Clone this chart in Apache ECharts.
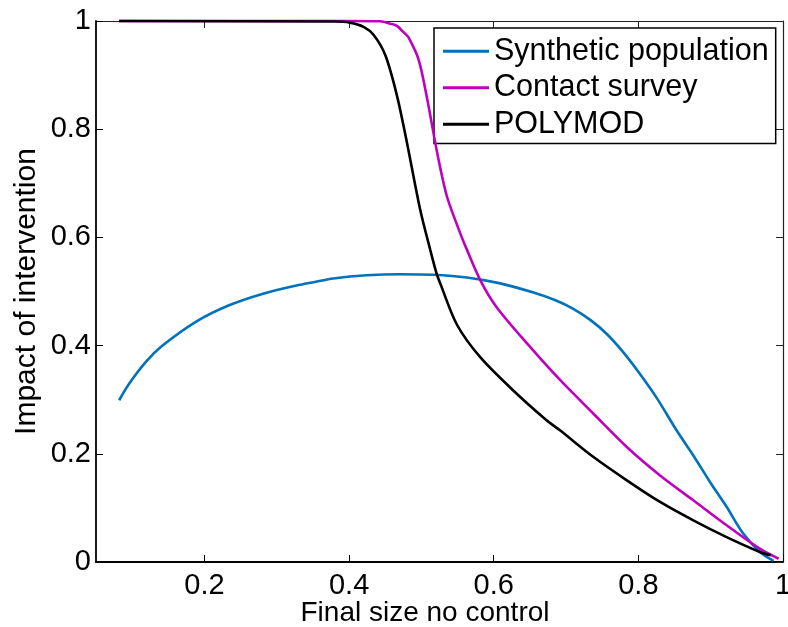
<!DOCTYPE html>
<html>
<head>
<meta charset="utf-8">
<title>Impact of intervention</title>
<script src="https://cdn.jsdelivr.net/npm/echarts@6/dist/echarts.min.js"></script>
<style>
  html, body { margin: 0; padding: 0; background: #ffffff; }
  #chart { width: 788px; height: 627px; }
</style>
</head>
<body>
<div id="chart"></div>
<script>
// Final size without control (x) vs. impact of intervention (y), three contact models
const seriesNames = ['Synthetic population', 'Contact survey', 'POLYMOD'];
const seriesColors = ['#0072BD', '#BF00BF', '#000000'];

const syntheticPopulation = [
  [0.082, 0.299], [0.096, 0.330], [0.119, 0.370], [0.142, 0.400], [0.188, 0.444],
  [0.234, 0.4745], [0.281, 0.496], [0.327, 0.511], [0.354, 0.518], [0.378, 0.524],
  [0.424, 0.530], [0.470, 0.532], [0.516, 0.531], [0.563, 0.526], [0.609, 0.515],
  [0.655, 0.498], [0.687, 0.483], [0.710, 0.468], [0.733, 0.448], [0.756, 0.422],
  [0.779, 0.388], [0.802, 0.348], [0.826, 0.302], [0.853, 0.243], [0.876, 0.197],
  [0.899, 0.148], [0.922, 0.102], [0.945, 0.0525], [0.968, 0.0185], [0.987, 0.002]
];

const contactSurvey = [
  [0.082, 1.000], [0.397, 1.000], [0.443, 0.9995], [0.457, 0.995], [0.466, 0.991],
  [0.477, 0.977], [0.482, 0.970], [0.496, 0.929], [0.508, 0.856], [0.522, 0.755],
  [0.535, 0.677], [0.549, 0.624], [0.558, 0.593], [0.581, 0.522], [0.604, 0.471],
  [0.650, 0.398], [0.692, 0.336], [0.738, 0.274], [0.784, 0.2126], [0.830, 0.160],
  [0.876, 0.114], [0.922, 0.068], [0.968, 0.0247], [0.994, 0.006]
];

const polymod = [
  [0.082, 1.000], [0.380, 0.999], [0.401, 0.997], [0.420, 0.989], [0.434, 0.974],
  [0.450, 0.937], [0.466, 0.863], [0.480, 0.775], [0.498, 0.653], [0.512, 0.578],
  [0.521, 0.533], [0.526, 0.515], [0.549, 0.439], [0.581, 0.379],
  [0.627, 0.317], [0.673, 0.262], [0.692, 0.243], [0.738, 0.194], [0.784, 0.151],
  [0.830, 0.111], [0.876, 0.077], [0.922, 0.046], [0.968, 0.0185], [0.983, 0.0124]
];

const xTicks = [0.2, 0.4, 0.6, 0.8, 1];

const FONT = '"Liberation Sans", Arial, Helvetica, sans-serif';
const chart = echarts.init(document.getElementById('chart'), null, { renderer: 'canvas' });

function tickLabel(v) {
  return String(Math.round(v * 10) / 10);
}

const lineSeries = [syntheticPopulation, contactSurvey, polymod].map((data, i) => ({
  name: seriesNames[i],
  type: 'line',
  data: data,
  symbol: 'none',
  smooth: 0.3,
  clip: false,
  lineStyle: { color: seriesColors[i], width: 2.6 },
  itemStyle: { color: seriesColors[i] },
  z: 3 + i,
  animation: false
}));

const option = {
  animation: false,
  backgroundColor: '#ffffff',
  grid: { left: 96, top: 21, right: 5, bottom: 65, containLabel: false, outerBoundsMode: 'none' },
  legend: {
    orient: 'vertical',
    left: 434,
    top: 28,
    padding: [5, 7, 1, 9],
    borderColor: '#000000',
    borderWidth: 1.5,
    backgroundColor: '#ffffff',
    icon: 'rect',
    itemWidth: 46,
    itemHeight: 3,
    itemGap: 0,
    textStyle: { fontFamily: FONT, fontSize: 30.5, color: '#000000', lineHeight: 36.5 },
    data: seriesNames
  },
  xAxis: [
    {
      type: 'value', min: 0.05, max: 1, position: 'bottom',
      name: 'Final size no control', nameLocation: 'middle', nameGap: 37, nameMoveOverlap: false,
      nameTextStyle: { fontFamily: FONT, fontSize: 28, color: '#000000', padding: [0, 29, 0, 0] },
      axisLine: { show: true, onZero: false, lineStyle: { color: '#000000', width: 1.8 } },
      axisTick: { show: true, inside: true, length: 7, customValues: xTicks, lineStyle: { color: '#000000', width: 1 } },
      axisLabel: { show: true, customValues: xTicks, formatter: tickLabel, margin: 9, fontFamily: FONT, fontSize: 29, color: '#000000' },
      splitLine: { show: false }
    },
    {
      type: 'value', min: 0.05, max: 1, position: 'top',
      axisLine: { show: true, onZero: false, lineStyle: { color: '#222222', width: 1.2 } },
      axisTick: { show: true, inside: true, length: 7, customValues: xTicks, lineStyle: { color: '#222222', width: 1 } },
      axisLabel: { show: false },
      splitLine: { show: false }
    }
  ],
  yAxis: [
    {
      type: 'value', min: 0, max: 1, interval: 0.2, position: 'left',
      name: 'Impact of intervention', nameLocation: 'middle', nameGap: 54, nameMoveOverlap: false,
      nameTextStyle: { fontFamily: FONT, fontSize: 30, color: '#000000' },
      axisLine: { show: true, onZero: false, lineStyle: { color: '#000000', width: 1.8 } },
      axisTick: { show: true, inside: true, length: 7, lineStyle: { color: '#000000', width: 1 } },
      axisLabel: { show: true, formatter: tickLabel, margin: 5, fontFamily: FONT, fontSize: 29, color: '#000000' },
      splitLine: { show: false }
    },
    {
      type: 'value', min: 0, max: 1, interval: 0.2, position: 'right',
      axisLine: { show: true, onZero: false, lineStyle: { color: '#222222', width: 1.2 } },
      axisTick: { show: true, inside: true, length: 7, lineStyle: { color: '#222222', width: 1 } },
      axisLabel: { show: false },
      splitLine: { show: false }
    }
  ],
  series: lineSeries
};

chart.setOption(option);
</script>
</body>
</html>
